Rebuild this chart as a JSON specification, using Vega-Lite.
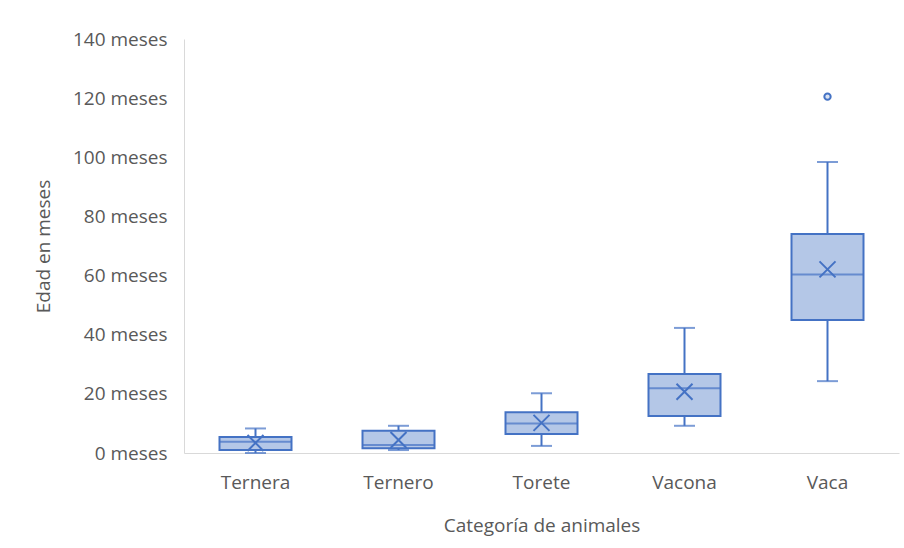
{
  "$schema": "https://vega.github.io/schema/vega-lite/v6.json",
  "autosize": "none",
  "width": 715,
  "height": 414,
  "padding": {"left": 184, "top": 39, "right": 5, "bottom": 95},
  "background": "white",
  "config": {
    "view": {"stroke": null},
    "font": "Open Sans",
    "axis": {"labelFont": "Open Sans", "titleFont": "Open Sans", "labelColor": "#595959", "titleColor": "#595959", "labelFontSize": 19, "titleFontSize": 19, "titleFontWeight": "normal", "grid": false, "ticks": false, "domainColor": "#d9d9d9", "domainWidth": 1}
  },
  "datasets": {
    "stats": [
      {"categoria": "Ternera", "lower": 0, "q1": 1, "median": 3.8, "q3": 5.4, "upper": 8.3, "mean": 3.4},
      {"categoria": "Ternero", "lower": 1, "q1": 1.6, "median": 2.7, "q3": 7.5, "upper": 9.2, "mean": 4.4},
      {"categoria": "Torete", "lower": 2.4, "q1": 6.4, "median": 10, "q3": 13.8, "upper": 20.2, "mean": 10.2},
      {"categoria": "Vacona", "lower": 9.2, "q1": 12.5, "median": 21.9, "q3": 26.7, "upper": 42.3, "mean": 20.7},
      {"categoria": "Vaca", "lower": 24.3, "q1": 45, "median": 60.4, "q3": 74.1, "upper": 98.4, "mean": 62.1}
    ],
    "outliers": [
      {"categoria": "Vaca", "edad": 120.5}
    ]
  },
  "encoding": {
    "x": {"field": "categoria", "type": "nominal", "sort": ["Ternera", "Ternero", "Torete", "Vacona", "Vaca"], "scale": {"paddingInner": 0, "paddingOuter": 0}, "axis": {"title": "Categoría de animales", "labelAngle": 0, "labelPadding": 20, "titlePadding": 24}}
  },
  "layer": [
    {
      "data": {"name": "stats"},
      "mark": {"type": "rule", "color": "#4472c4", "strokeWidth": 2},
      "encoding": {
        "y": {"field": "lower", "type": "quantitative", "scale": {"domain": [0, 140], "nice": false}, "axis": {"title": "Edad en meses", "values": [0, 20, 40, 60, 80, 100, 120, 140], "labelExpr": "datum.value + ' meses'", "labelPadding": 17, "titlePadding": 19}},
        "y2": {"field": "upper"}
      }
    },
    {
      "data": {"name": "stats"},
      "mark": {"type": "tick", "color": "#4472c4", "size": 21, "thickness": 2},
      "encoding": {"y": {"field": "lower", "type": "quantitative"}}
    },
    {
      "data": {"name": "stats"},
      "mark": {"type": "tick", "color": "#4472c4", "size": 21, "thickness": 2},
      "encoding": {"y": {"field": "upper", "type": "quantitative"}}
    },
    {
      "data": {"name": "stats"},
      "mark": {"type": "bar", "size": 72, "fill": "#b4c7e7", "stroke": "#4472c4", "strokeWidth": 2},
      "encoding": {"y": {"field": "q1", "type": "quantitative"}, "y2": {"field": "q3"}}
    },
    {
      "data": {"name": "stats"},
      "mark": {"type": "tick", "color": "#4472c4", "size": 72, "thickness": 2},
      "encoding": {"y": {"field": "median", "type": "quantitative"}}
    },
    {
      "data": {"name": "stats"},
      "mark": {"type": "point", "shape": "M-1,-1L1,1M-1,1L1,-1", "size": 256, "filled": false, "stroke": "#4472c4", "strokeWidth": 2, "opacity": 1},
      "encoding": {"y": {"field": "mean", "type": "quantitative"}}
    },
    {
      "data": {"name": "outliers"},
      "mark": {"type": "point", "shape": "circle", "size": 40, "filled": false, "fill": "#dae3f3", "stroke": "#4472c4", "strokeWidth": 2, "opacity": 1},
      "encoding": {"y": {"field": "edad", "type": "quantitative"}}
    }
  ]
}
